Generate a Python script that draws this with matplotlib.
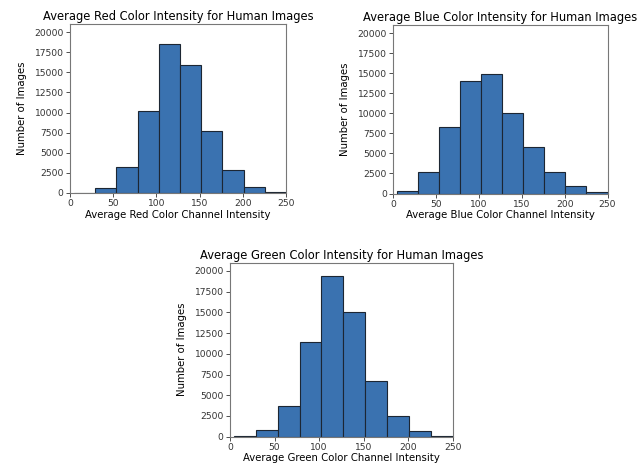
import numpy as np
import matplotlib
matplotlib.use("Agg")
import matplotlib.pyplot as plt

bin_edges = np.linspace(4.5, 250, 11)

red_counts = [60, 620, 3240, 10230, 18480, 15880, 7650, 2800, 760, 130]
blue_counts = [250, 2700, 8270, 13970, 14840, 10020, 5820, 2720, 880, 130]
green_counts = [40, 760, 3690, 11370, 19340, 15060, 6670, 2450, 680, 110]

titles = ["Average Red Color Intensity for Human Images",
          "Average Blue Color Intensity for Human Images",
          "Average Green Color Intensity for Human Images"]
xlabels = ["Average Red Color Channel Intensity",
           "Average Blue Color Channel Intensity",
           "Average Green Color Channel Intensity"]
ylabel = "Number of Images"
yticks = [0, 2500, 5000, 7500, 10000, 12500, 15000, 17500, 20000]
xticks = [0, 50, 100, 150, 200, 250]

fig = plt.figure(figsize=(6.44, 4.63), dpi=100)
positions = [
    [70/644, 1-193/463, (286-70)/644, (193-24)/463],
    [393/644, 1-193.5/463, (607.5-393)/644, (193.5-25)/463],
    [230/644, 1-436.7/463, (452.7-230)/644, (436.7-262.7)/463],
]
for pos, counts, title, xl in zip(positions, [red_counts, blue_counts, green_counts], titles, xlabels):
    ax = fig.add_axes(pos)
    centers = (bin_edges[:-1] + bin_edges[1:]) / 2
    ax.hist(centers, bins=bin_edges, weights=counts, color="#3a72b0",
            edgecolor="#1c2633", linewidth=0.8)
    ax.set_xlim(0, 250)
    ax.set_ylim(0, 21000)
    ax.set_xticks(xticks)
    ax.set_yticks(yticks)
    ax.tick_params(labelsize=6.6, length=3, width=0.6, pad=1.5, colors="#333333")
    ax.set_title(title, fontsize=8.3, pad=3)
    ax.set_xlabel(xl, fontsize=7.3, labelpad=1)
    ax.set_ylabel(ylabel, fontsize=7.3, labelpad=5)
    for s in ax.spines.values():
        s.set_color("#777777")
        s.set_linewidth(0.8)

fig.savefig("out.png", dpi=100)
